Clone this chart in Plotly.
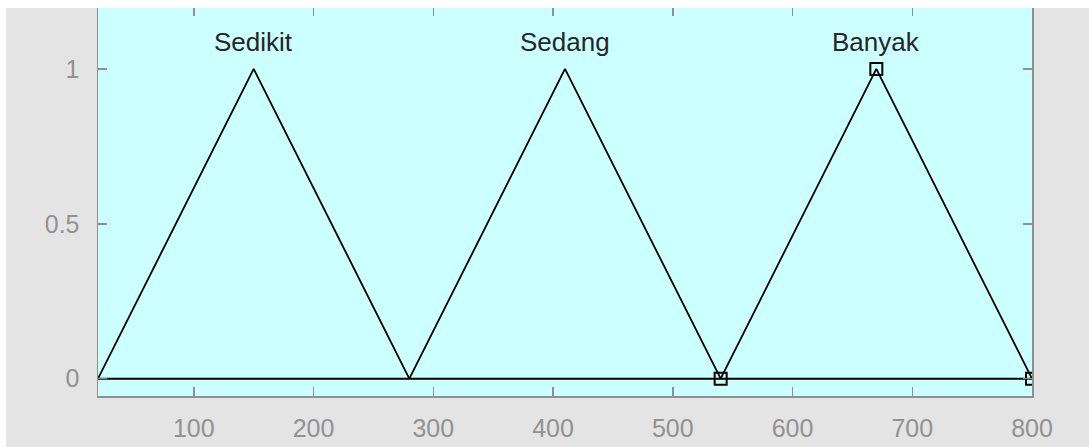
import plotly.graph_objects as go

# ---- data ----
mf_names = ["Sedikit", "Sedang", "Banyak"]
mf_a = [20, 280, 540]
mf_b = [150, 410, 670]
mf_c = [280, 540, 800]
universe = [20, 800]
selected_mf = 2
x_ticks = [100, 200, 300, 400, 500, 600, 700, 800]
y_ticks = [0, 0.5, 1]
y_tick_text = ["0", "0.5", "1"]

W, H = 1089, 447
ML, MR, MT, MB = 98, 57, 5, 51
PW, PH = W - ML - MR, H - MT - MB

fig = go.Figure()

# zero line across universe
fig.add_trace(go.Scatter(x=universe, y=[0, 0], mode="lines",
                         line=dict(color="black", width=2), hoverinfo="skip"))

for i, name in enumerate(mf_names):
    fig.add_trace(go.Scatter(x=[mf_a[i], mf_b[i], mf_c[i]], y=[0, 1, 0], mode="lines",
                             line=dict(color="black", width=1.8), hoverinfo="skip"))
    fig.add_annotation(x=mf_b[i], y=1.088, text=name, showarrow=False,
                       xanchor="center", yanchor="middle",
                       font=dict(family="Liberation Sans, Arial", size=26, color="#262626"))

# vertices of selected MF
fig.add_trace(go.Scatter(x=[mf_a[selected_mf], mf_b[selected_mf], mf_c[selected_mf]],
                         y=[0, 1, 0], mode="markers",
                         marker=dict(symbol="square-open", size=12, color="black",
                                     line=dict(width=2, color="black")),
                         hoverinfo="skip"))

axis_common = dict(showgrid=False, zeroline=False, showline=True, linecolor="#8f8f8f",
                   linewidth=1.5, mirror="ticks", ticks="inside", ticklen=9, tickwidth=1.5,
                   tickcolor="#8f8f8f",
                   tickfont=dict(family="Liberation Sans, Arial", size=25, color="#929292"))

fig.update_xaxes(range=universe, tickvals=x_ticks, ticklabelstandoff=9, **axis_common)
fig.update_yaxes(range=[-0.056, 1.2], tickvals=y_ticks, ticktext=y_tick_text,
                 ticklabelstandoff=12, **axis_common)

# white border at top and left of the screenshot
fig.add_shape(type="rect", xref="paper", yref="paper",
              x0=-ML / PW - 0.01, x1=1 + MR / PW + 0.01, y0=1 - 1.0 / PH, y1=1 + MT / PH + 0.01,
              fillcolor="white", line=dict(width=0), layer="above")
fig.add_shape(type="rect", xref="paper", yref="paper",
              x0=-ML / PW - 0.01, x1=-(ML - 6) / PW, y0=-MB / PH - 0.01, y1=1 + MT / PH + 0.01,
              fillcolor="white", line=dict(width=0), layer="above")

fig.update_layout(width=W, height=H, margin=dict(l=ML, r=MR, t=MT, b=MB),
                  paper_bgcolor="#e4e4e4", plot_bgcolor="#ccffff", showlegend=False,
                  hovermode=False)

fig.write_html("out.html", config={"displayModeBar": False, "staticPlot": True},
               post_script="document.body.style.margin='0px';document.body.style.overflow='hidden';")
